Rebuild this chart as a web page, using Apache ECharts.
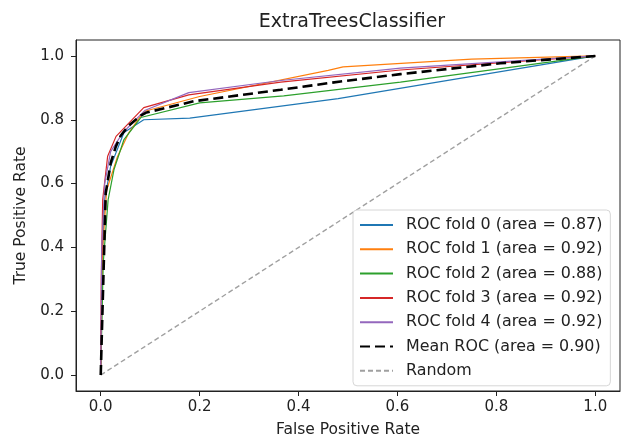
<!DOCTYPE html>
<html lang="en">
<head>
    <meta charset="UTF-8">
    <title>ExtraTreesClassifier ROC</title>
    <script src="https://cdn.jsdelivr.net/npm/echarts@6/dist/echarts.min.js"></script>
    <style>
        html, body { margin: 0; padding: 0; background: #fff; }
    </style>
</head>
<body>

<div id="main" style="width: 621px;height:443px;"></div>

<script type="text/javascript">
    // ROC points per fold, [fpr, tpr]
    var fold0 = [[0, 0], [0.003, 0.35], [0.008, 0.55], [0.02, 0.654], [0.047, 0.76], [0.087, 0.80],
        [0.18, 0.805], [0.48, 0.866], [1, 1]];
    var fold1 = [[0, 0], [0.004, 0.4], [0.012, 0.58], [0.034, 0.685], [0.057, 0.76], [0.087, 0.826],
        [0.2, 0.873], [0.46, 0.955], [0.49, 0.966], [0.75, 0.99], [1, 1]];
    var fold2 = [[0, 0], [0.005, 0.35], [0.015, 0.55], [0.027, 0.645], [0.047, 0.738], [0.081, 0.807],
        [0.2, 0.853], [0.37, 0.875], [0.606, 0.918], [1, 1]];
    var fold3 = [[0, 0], [0.001, 0.3], [0.004, 0.55], [0.014, 0.686], [0.031, 0.748], [0.087, 0.838],
        [0.178, 0.878], [0.364, 0.918], [0.606, 0.956], [1, 1]];
    var fold4 = [[0, 0], [0.002, 0.4], [0.008, 0.6], [0.02, 0.7], [0.045, 0.76], [0.09, 0.83],
        [0.178, 0.885], [0.364, 0.923], [0.606, 0.962], [1, 1]];
    var meanRoc = [[0, 0], [0.0101, 0.57], [0.0202, 0.665], [0.0303, 0.715], [0.0404, 0.75], [0.0505, 0.77],
        [0.0606, 0.787], [0.0707, 0.80], [0.0808, 0.813], [0.0909, 0.822], [0.188, 0.858], [0.364, 0.894],
        [0.485, 0.92], [0.606, 0.943], [0.808, 0.977], [1, 1]];
    var randomLine = [[0, 0], [1, 1]];

    var foldAreas = ['0.87', '0.92', '0.88', '0.92', '0.92'];
    var meanArea = '0.90';
    var tickValues = [0, 0.2, 0.4, 0.6, 0.8, 1.0];
    var foldColors = ['#1f77b4', '#ff7f0e', '#2ca02c', '#d62728', '#9467bd'];

    var folds = [fold0, fold1, fold2, fold3, fold4];
    var font = 'DejaVu Sans';

    var series = [];
    var names = [];
    folds.forEach(function (f, i) {
        var name = 'ROC fold ' + i + ' (area = ' + foldAreas[i] + ')';
        names.push(name);
        series.push({
            name: name,
            type: 'line',
            data: f,
            symbol: 'none',
            lineStyle: {width: 1.2, color: foldColors[i]},
            itemStyle: {color: foldColors[i]}
        });
    });
    var meanName = 'Mean ROC (area = ' + meanArea + ')';
    names.push(meanName);
    series.push({
        name: meanName,
        type: 'line',
        data: meanRoc,
        symbol: 'none',
        z: 5,
        lineStyle: {width: 2.6, color: '#000', type: [10, 5]},
        itemStyle: {color: '#000'}
    });
    names.push('Random');
    series.push({
        name: 'Random',
        type: 'line',
        data: randomLine,
        symbol: 'none',
        lineStyle: {width: 1.4, color: '#a0a0a0', type: [5, 3]},
        itemStyle: {color: '#a0a0a0'}
    });

    var myChart = echarts.init(document.getElementById('main'));

    var option = {
        animation: false,
        backgroundColor: '#fff',
        textStyle: {fontFamily: font},
        title: {
            text: 'ExtraTreesClassifier',
            left: 347,
            textAlign: 'center',
            top: 8,
            textStyle: {fontFamily: font, fontSize: 19, fontWeight: 'normal', color: '#222'}
        },
        legend: {
            orient: 'vertical',
            left: 353,
            top: 210,
            padding: [7, 8, 7, 6],
            itemWidth: 33,
            itemHeight: 14,
            itemGap: 8.3,
            backgroundColor: '#fff',
            borderColor: '#d6d6d6',
            borderWidth: 1,
            borderRadius: 4,
            itemStyle: {color: 'rgba(0,0,0,0)', borderWidth: 0},
            textStyle: {fontFamily: font, fontSize: 15.9, color: '#222', padding: [0, 0, 0, 8]},
            data: names
        },
        grid: {
            left: 76,
            right: 1,
            top: 40,
            bottom: 50,
            show: true,
            borderColor: '#222',
            borderWidth: 1
        },
        xAxis: {
            type: 'value',
            min: -0.05,
            max: 1.05,
            name: 'False Positive Rate',
            nameLocation: 'middle',
            nameGap: 31,
            nameTextStyle: {fontFamily: font, fontSize: 15.5, color: '#222'},
            axisLine: {onZero: false, lineStyle: {color: '#222'}},
            axisTick: {length: 5, lineStyle: {color: '#222'}, customValues: tickValues},
            axisLabel: {
                margin: 9, fontSize: 15, color: '#222', customValues: tickValues,
                formatter: function (v) { return v.toFixed(1); }
            },
            splitLine: {show: false}
        },
        yAxis: {
            type: 'value',
            min: -0.05,
            max: 1.05,
            name: 'True Positive Rate',
            nameLocation: 'middle',
            nameGap: 46,
            nameTextStyle: {fontFamily: font, fontSize: 15.5, color: '#222'},
            axisLine: {show: true, onZero: false, lineStyle: {color: '#222'}},
            axisTick: {show: true, length: 5, lineStyle: {color: '#222'}, customValues: tickValues},
            axisLabel: {
                margin: 12, fontSize: 15, color: '#222', customValues: tickValues,
                formatter: function (v) { return v.toFixed(1); }
            },
            splitLine: {show: false}
        },
        series: series
    };

    myChart.setOption(option);
</script>
</body>
</html>
